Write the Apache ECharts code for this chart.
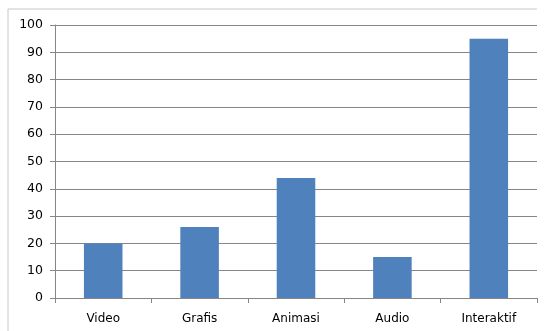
<!DOCTYPE html>
<html>
<head>
<meta charset="utf-8">
<script src="https://cdn.jsdelivr.net/npm/echarts@6/dist/echarts.min.js"></script>
<style>
  html, body { margin: 0; padding: 0; background: #fff; }
  #chart { width: 545px; height: 331px; }
</style>
</head>
<body>
<div id="chart"></div>
<script>
// data
var categories = ['Video', 'Grafis', 'Animasi', 'Audio', 'Interaktif'];
var values = [20, 26, 44, 15, 95];

var chart = echarts.init(document.getElementById('chart'));
var option = {
  animation: false,
  textStyle: { fontFamily: 'DejaVu Sans' },
  grid: { left: 55, top: 25, right: 8, bottom: 33 },
  graphic: [
    // outer chart border (top and left edge visible)
    { type: 'line', shape: { x1: 8, y1: 9, x2: 537, y2: 9 }, style: { stroke: '#c8c8c8', lineWidth: 1 } },
    { type: 'line', shape: { x1: 8, y1: 9, x2: 8, y2: 331 }, style: { stroke: '#c8c8c8', lineWidth: 1 } }
  ],
  xAxis: {
    type: 'category',
    data: categories,
    axisLine: { lineStyle: { color: '#868686' } },
    axisTick: { show: true, length: 5, lineStyle: { color: '#868686' } },
    axisLabel: { color: '#000', fontSize: 12, margin: 15 }
  },
  yAxis: {
    type: 'value',
    min: 0,
    max: 100,
    interval: 10,
    axisLine: { show: true, lineStyle: { color: '#868686' } },
    axisTick: { show: true, length: 5, lineStyle: { color: '#868686' } },
    axisLabel: { color: '#000', fontSize: 12.5, margin: 12 },
    splitLine: { lineStyle: { color: '#868686' } }
  },
  series: [{
    type: 'bar',
    data: values,
    barWidth: '40%',
    itemStyle: { color: '#4f81bd' }
  }]
};
chart.setOption(option);
</script>
</body>
</html>
